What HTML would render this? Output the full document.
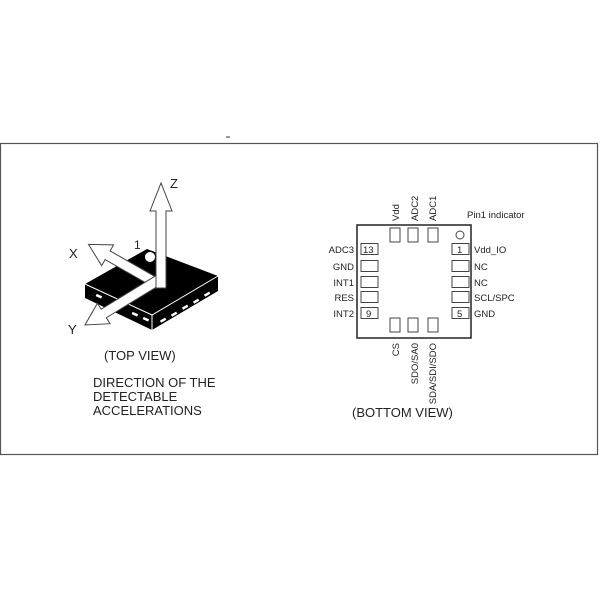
<!DOCTYPE html>
<html><head><style>
html,body{margin:0;padding:0;background:#fff;}
svg{display:block;}
text{font-family:"Liberation Sans",Arial,sans-serif;fill:#222;}
</style></head><body>
<svg width="600" height="600" viewBox="0 0 600 600" xmlns="http://www.w3.org/2000/svg">
<rect x="0.5" y="143.5" width="597" height="311" fill="none" stroke="#555" stroke-width="1.2"/>
<line x1="226" y1="137" x2="230" y2="137" stroke="#333" stroke-width="1"/>

<!-- chip top view -->
<polygon points="85,284 85,298 152,330 218,291 218,276 152,315" fill="#000"/>
<polygon points="85,284 147,249 218,276 152,315" fill="#000"/>
<polyline points="85,284 152,315 218,276" fill="none" stroke="#fff" stroke-width="1"/>
<line x1="152" y1="315" x2="152" y2="330" stroke="#fff" stroke-width="1"/>
<g fill="#fff">
<rect x="96" y="295" width="6" height="2.5" transform="rotate(24 99 296)"/>
<rect x="132" y="313" width="6" height="2.5" transform="rotate(24 135 314)"/>
<rect x="143" y="318" width="6" height="2.5" transform="rotate(24 146 319)"/>
<rect x="160" y="319" width="6" height="2.5" transform="rotate(-30 163 320)"/>
<rect x="171" y="313" width="6" height="2.5" transform="rotate(-30 174 314)"/>
<rect x="182" y="306" width="6" height="2.5" transform="rotate(-30 185 307)"/>
<rect x="193" y="300" width="6" height="2.5" transform="rotate(-30 196 301)"/>
<rect x="204" y="293" width="6" height="2.5" transform="rotate(-30 207 294)"/>
</g>
<circle cx="150" cy="257" r="5" fill="#fff"/>
<text x="134" y="249" font-size="12">1</text>

<!-- arrows -->
<g fill="#fff" stroke="#444" stroke-width="1">
<polygon transform="translate(158,284) rotate(209.7)" points="0,-5 58,-5 58,-12 80,0 58,12 58,5 0,5"/>
<polygon transform="translate(160,279) rotate(148.5)" points="0,-5 66,-5 66,-12 88,0 66,12 66,5 0,5"/>
<polygon transform="translate(161,288) rotate(-90)" points="0,-5 77,-5 77,-11 105,0 77,11 77,5 0,5"/>
</g>
<text x="170" y="188" font-size="13">Z</text>
<text x="69" y="258" font-size="13">X</text>
<text x="68" y="334" font-size="13">Y</text>

<text x="104" y="360" font-size="13">(TOP VIEW)</text>
<text x="93" y="387" font-size="13">DIRECTION OF THE</text>
<text x="93" y="401" font-size="13">DETECTABLE</text>
<text x="93" y="415" font-size="13">ACCELERATIONS</text>

<!-- bottom view -->
<rect x="357" y="225" width="114" height="113" fill="#fff" stroke="#222" stroke-width="1.5"/>
<g fill="#fff" stroke="#444" stroke-width="1">
<rect x="390" y="228" width="10" height="14"/>
<rect x="408" y="228" width="10" height="14"/>
<rect x="428" y="228" width="10" height="14"/>
<rect x="390" y="318" width="10" height="14"/>
<rect x="408" y="318" width="10" height="14"/>
<rect x="428" y="318" width="10" height="14"/>
<rect x="361" y="243.5" width="17" height="11"/>
<rect x="361" y="260.5" width="17" height="11"/>
<rect x="361" y="276.5" width="17" height="11"/>
<rect x="361" y="291.5" width="17" height="11"/>
<rect x="361" y="307.5" width="17" height="11"/>
<rect x="452" y="243.5" width="17" height="11"/>
<rect x="452" y="260.5" width="17" height="11"/>
<rect x="452" y="276.5" width="17" height="11"/>
<rect x="452" y="291.5" width="17" height="11"/>
<rect x="452" y="307.5" width="17" height="11"/>
</g>
<circle cx="460" cy="235" r="4" fill="none" stroke="#444" stroke-width="1"/>
<g font-size="9.5">
<text x="363" y="253">13</text>
<text x="366" y="317">9</text>
<text x="457" y="253">1</text>
<text x="457" y="317">5</text>
<text x="354" y="253" text-anchor="end">ADC3</text>
<text x="354" y="270" text-anchor="end">GND</text>
<text x="354" y="286" text-anchor="end">INT1</text>
<text x="354" y="301" text-anchor="end">RES</text>
<text x="354" y="317" text-anchor="end">INT2</text>
<text x="474" y="253">Vdd_IO</text>
<text x="474" y="270">NC</text>
<text x="474" y="286">NC</text>
<text x="474" y="301">SCL/SPC</text>
<text x="474" y="317">GND</text>
<text x="467" y="218">Pin1 indicator</text>
<text transform="translate(399,221) rotate(-90)">Vdd</text>
<text transform="translate(418,221) rotate(-90)">ADC2</text>
<text transform="translate(436,221) rotate(-90)">ADC1</text>
<text transform="translate(399,343) rotate(-90)" text-anchor="end">CS</text>
<text transform="translate(418,343) rotate(-90)" text-anchor="end">SDO/SA0</text>
<text transform="translate(436,343) rotate(-90)" text-anchor="end">SDA/SDI/SDO</text>
</g>
<text x="352" y="417" font-size="13">(BOTTOM VIEW)</text>
</svg>
</body></html>
